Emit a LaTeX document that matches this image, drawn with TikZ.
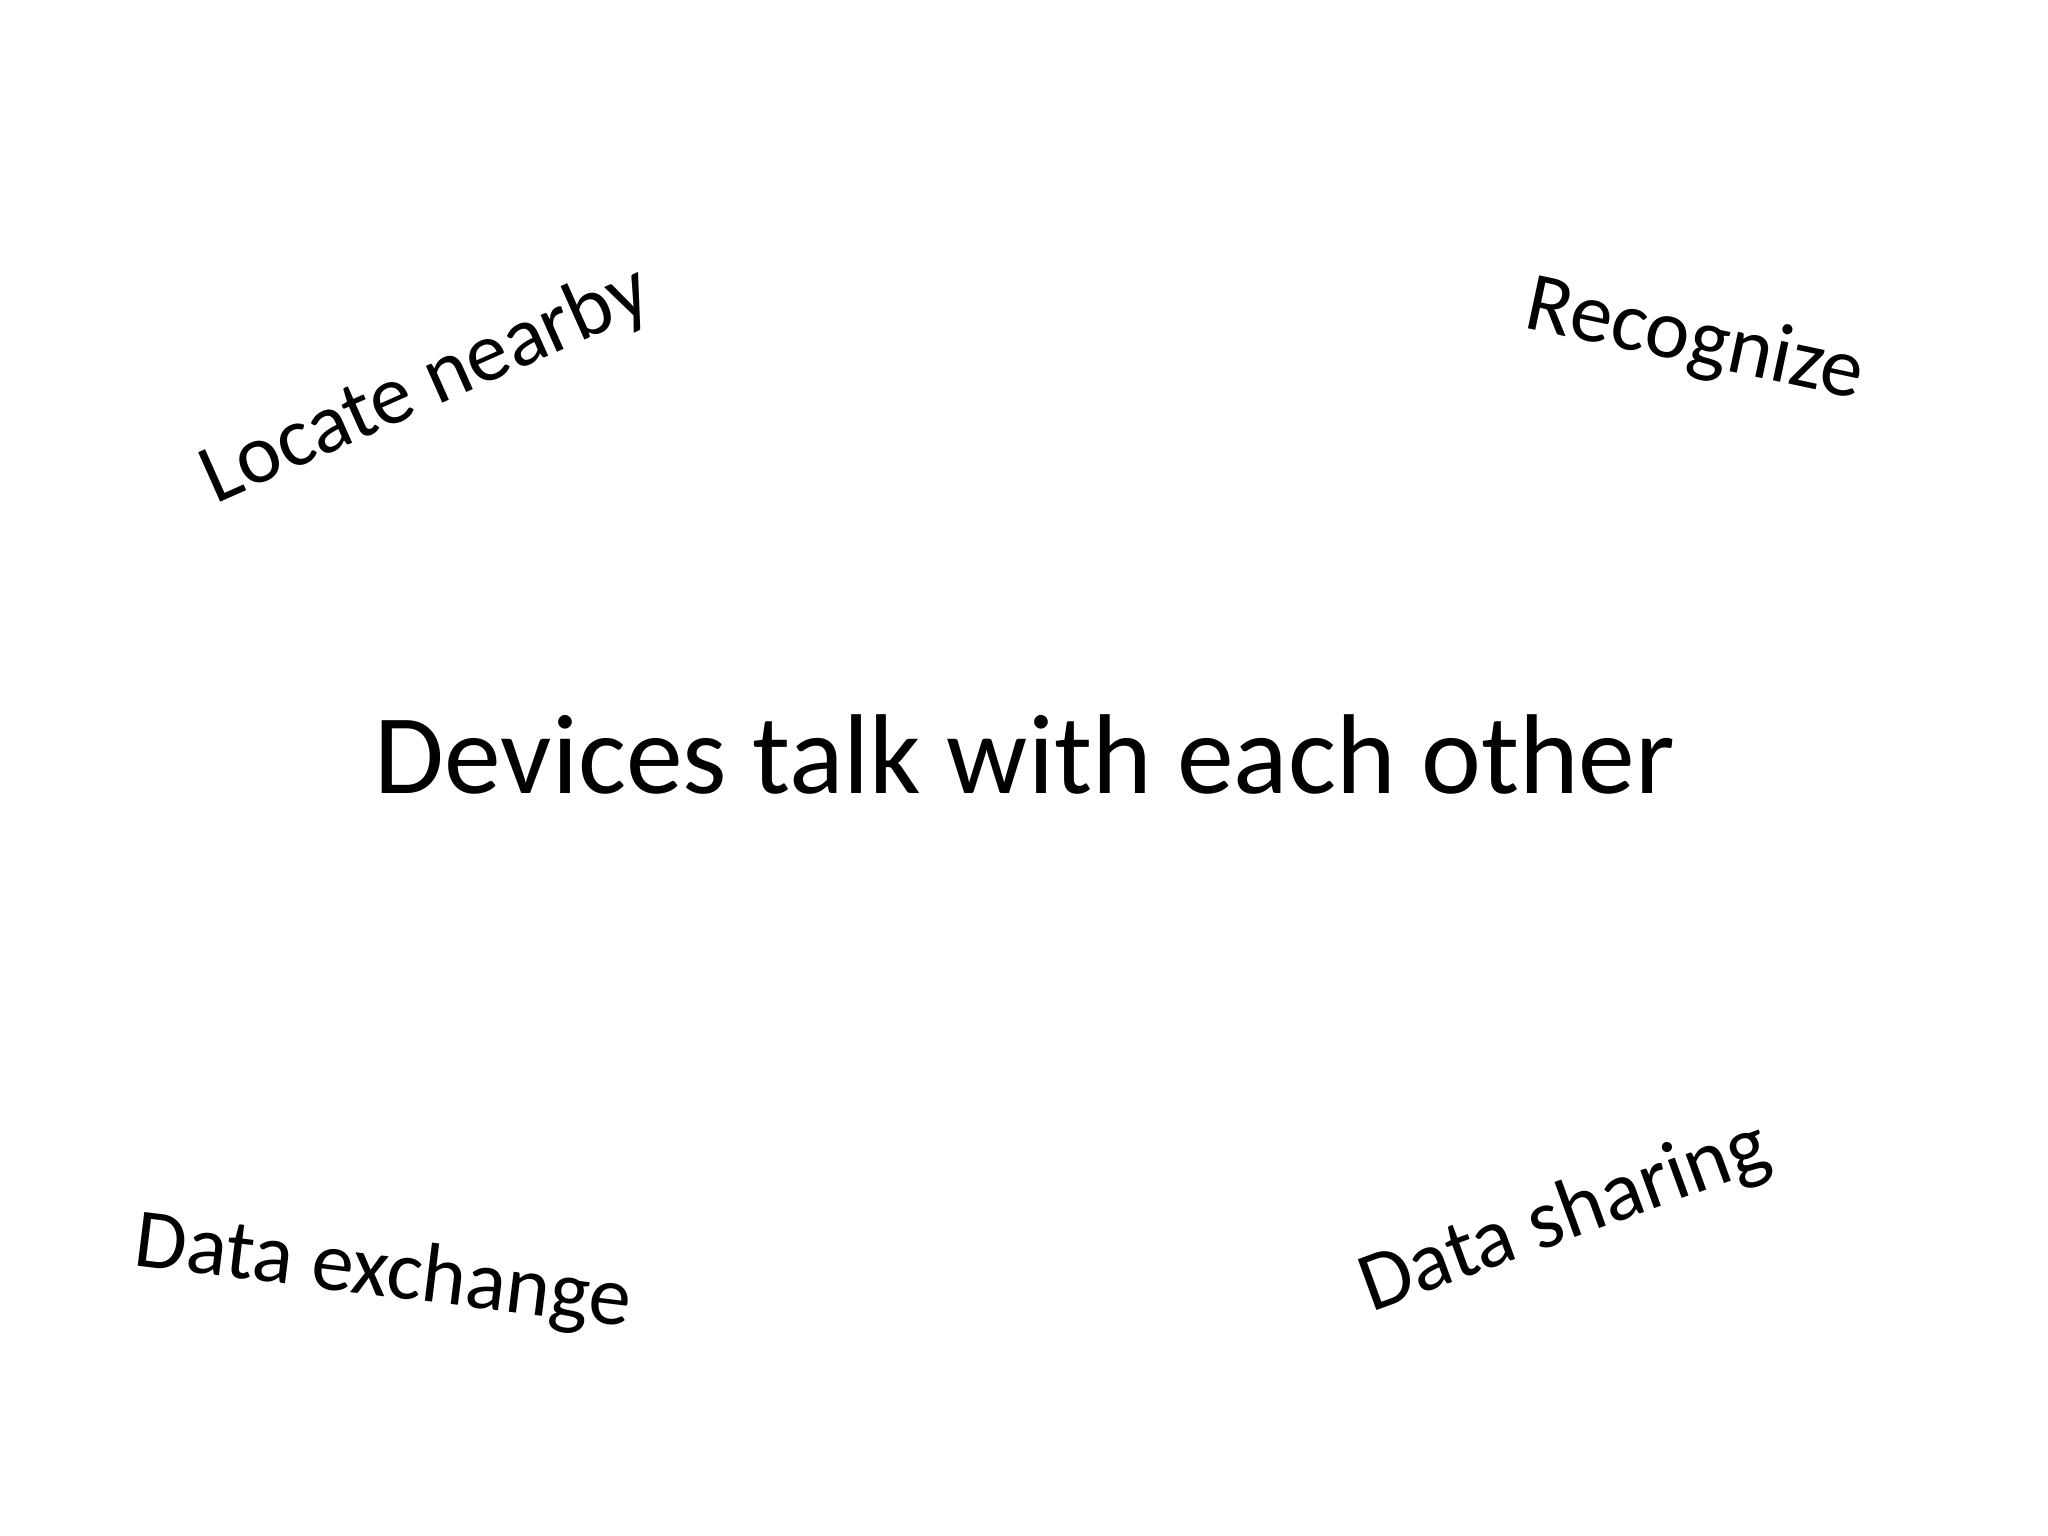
\documentclass[tikz,border=0pt]{standalone}
\usepackage{fontspec}
\setmainfont{Carlito}
\begin{document}
\begin{tikzpicture}
\tikzset{lbl/.style={font=\fontsize{24}{28}\selectfont, inner sep=0pt}}
\fill[white] (0,0) rectangle (20.48,15.36);
\node[font=\fontsize{32.3}{38}\selectfont, inner sep=0pt] (c) at (10.25,7.81) {Devices talk with each other};
\node[lbl, rotate=24] (a) at (4.26,11.50) {Locate nearby};
\node[lbl, rotate=-12] (b) at (16.95,11.94) {Recognize};
\node[lbl, rotate=-7] (d) at (3.83,2.62) {Data exchange};
\node[lbl, rotate=20] (e) at (15.65,3.18) {Data sharing};
\end{tikzpicture}
\end{document}
